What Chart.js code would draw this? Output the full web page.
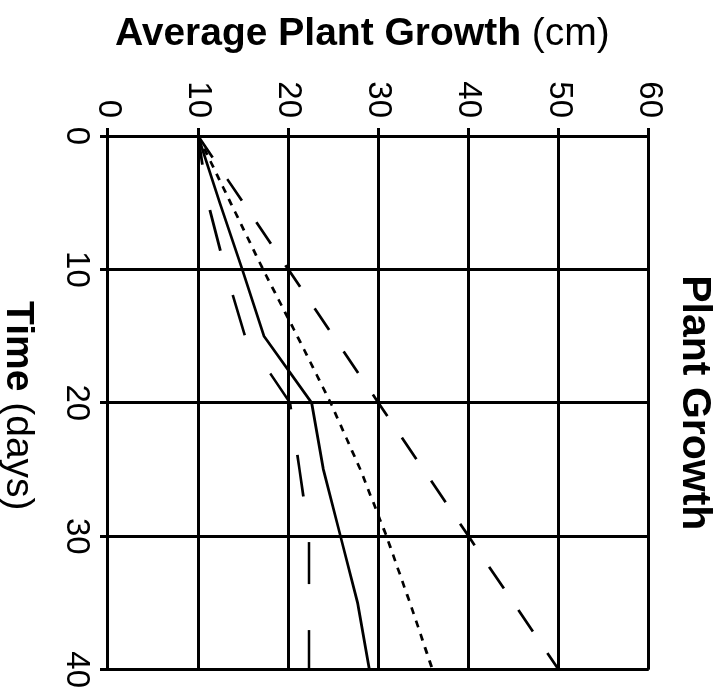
<!DOCTYPE html>
<html>
<head>
<meta charset="utf-8">
<script src="https://cdn.jsdelivr.net/npm/chart.js@4.4.1/dist/chart.umd.min.js"></script>
<style>
  html, body { margin: 0; padding: 0; background: #fff; overflow: hidden; }
  /* the whole chart is turned a quarter turn clockwise */
  #wrap {
    position: absolute; left: 0; top: 0;
    width: 692px; height: 726px;
    transform-origin: 0 0;
    transform: translateX(726px) rotate(90deg);
  }
</style>
</head>
<body>
<div id="wrap"><canvas id="myChart" width="692" height="726"></canvas></div>
<script>
const days = [0, 5, 10, 15, 20, 25, 30, 35, 40];
const solidGrowth  = [10, 12.4, 14.9, 17.3, 22.6, 23.9, 25.8, 27.7, 29.0];
const dottedGrowth = [10, 13.6, 17.2, 21.0, 24.7, 28.0, 30.9, 33.5, 36.0];
const shortDashGrowth = [10, 15, 20, 25, 30, 35, 40, 45, 50];
const longDashGrowth  = [10, 11.1, 13.0, 15.2, 20.2, 21.25, 22.3, 22.3, 22.3];
const timeTicks = [0, 10, 20, 30, 40];
const growthTicks = [0, 10, 20, 30, 40, 50, 60];

const FONT = '"Liberation Sans", Arial, Helvetica, sans-serif';
Chart.defaults.font.family = FONT;
Chart.defaults.color = '#000';

function points(values) {
    return days.map((d, i) => ({ x: d, y: values[i] }));
}

function drawMixed(ctx, parts, size, cx, cy, rot) {
    ctx.save();
    ctx.translate(cx, cy);
    ctx.rotate(rot);
    const widths = parts.map(([w, t]) => {
        ctx.font = w + ' ' + size + 'px ' + FONT;
        return ctx.measureText(t).width;
    });
    let x = -widths.reduce((a, b) => a + b, 0) / 2;
    ctx.textAlign = 'left';
    ctx.textBaseline = 'alphabetic';
    parts.forEach(([w, t], i) => {
        ctx.font = w + ' ' + size + 'px ' + FONT;
        ctx.fillText(t, x, 0);
        x += widths[i];
    });
    ctx.restore();
}

// axis titles mix bold and regular, so they are drawn here
const axisTitles = {
    id: 'axisTitles',
    afterDraw(chart) {
        const { ctx, chartArea } = chart;
        ctx.save();
        ctx.fillStyle = '#000';
        drawMixed(ctx, [['bold', 'Average Plant Growth'], ['normal', ' (cm)']], 39,
            45, (chartArea.top + chartArea.bottom) / 2 + 16, -Math.PI / 2);
        drawMixed(ctx, [['bold', 'Time'], ['normal', ' (days)']], 39,
            (chartArea.left + chartArea.right) / 2 + 3, 719, 0);
        ctx.restore();
    }
};

const gridStyle = { color: '#000', lineWidth: 3, drawTicks: true, tickLength: 8, tickWidth: 3, tickColor: '#000' };

function makeLine(values, dash, offset) {
    return {
        data: points(values),
        borderColor: '#000',
        borderWidth: 2.7,
        borderDash: dash,
        borderDashOffset: offset,
        borderCapStyle: 'butt',
        pointRadius: 0,
        tension: 0,
        fill: false
    };
}

const ctx = document.getElementById('myChart').getContext('2d');
const myChart = new Chart(ctx, {
    type: 'line',
    data: {
        datasets: [
            makeLine(solidGrowth, [], 0),
            makeLine(dottedGrowth, [7, 7], 0),
            makeLine(shortDashGrowth, [26, 26], 0),
            makeLine(longDashGrowth, [42, 46], 13)
        ]
    },
    options: {
        responsive: false,
        animation: false,
        devicePixelRatio: 1,
        layout: { padding: { right: 22 } },
        plugins: {
            legend: { display: false },
            tooltip: { enabled: false },
            title: {
                display: true,
                text: 'Plant Growth',
                fullSize: false,
                color: '#000',
                font: { size: 41, weight: 'bold', lineHeight: 1.2 },
                padding: { top: 7, bottom: 21 }
            }
        },
        scales: {
            x: {
                type: 'linear',
                min: 0, max: 40,
                afterBuildTicks: (s) => { s.ticks = timeTicks.map(v => ({ value: v })); },
                afterFit: (s) => { s.height = 108; },
                ticks: { padding: 4, maxRotation: 0, font: { size: 33 }, color: '#000' },
                grid: gridStyle,
                border: { color: '#000', width: 3 }
            },
            y: {
                type: 'linear',
                min: 0, max: 60,
                afterBuildTicks: (s) => { s.ticks = growthTicks.map(v => ({ value: v })); },
                afterFit: (s) => { s.width = 136; },
                ticks: { padding: 10, font: { size: 33 }, color: '#000' },
                grid: gridStyle,
                border: { color: '#000', width: 3 }
            }
        }
    },
    plugins: [axisTitles]
});
</script>
</body>
</html>
